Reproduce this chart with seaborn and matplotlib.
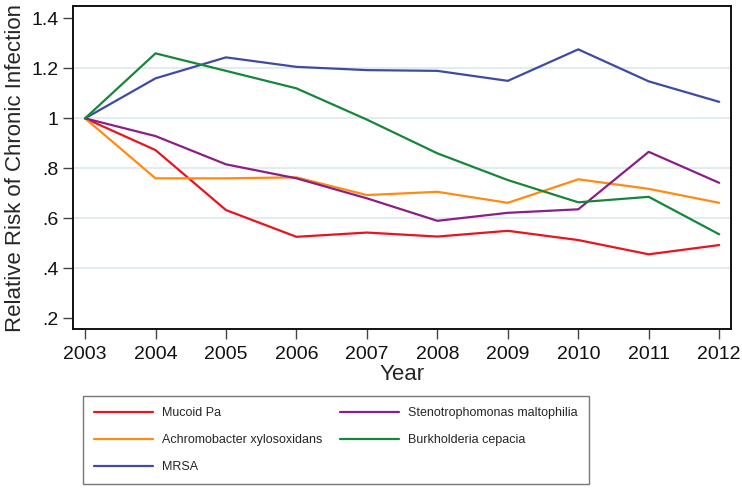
import numpy as np
import pandas as pd
import matplotlib
matplotlib.use("Agg")
import matplotlib.pyplot as plt
import seaborn as sns

years = [2003, 2004, 2005, 2006, 2007, 2008, 2009, 2010, 2011, 2012]
mucoid_pa = [1.0, 0.873, 0.633, 0.526, 0.543, 0.527, 0.55, 0.513, 0.456, 0.493]
achromobacter = [1.0, 0.76, 0.76, 0.764, 0.693, 0.706, 0.662, 0.756, 0.718, 0.662]
mrsa = [1.0, 1.16, 1.244, 1.206, 1.193, 1.19, 1.15, 1.276, 1.148, 1.066]
stenotrophomonas = [1.0, 0.929, 0.816, 0.76, 0.68, 0.59, 0.622, 0.636, 0.866, 0.742]
burkholderia = [1.0, 1.26, 1.19, 1.12, 0.995, 0.86, 0.753, 0.664, 0.686, 0.536]

series = {
    "Mucoid Pa": mucoid_pa,
    "Achromobacter xylosoxidans": achromobacter,
    "MRSA": mrsa,
    "Stenotrophomonas maltophilia": stenotrophomonas,
    "Burkholderia cepacia": burkholderia,
}
colors = {
    "Mucoid Pa": "#e8141f",
    "Achromobacter xylosoxidans": "#ff8a14",
    "MRSA": "#3e4ba3",
    "Stenotrophomonas maltophilia": "#8a1f86",
    "Burkholderia cepacia": "#16863a",
}

df = pd.concat(
    [pd.DataFrame({"year": years, "rr": vals, "organism": name})
     for name, vals in series.items()],
    ignore_index=True,
)

sns.set_style("white")
plt.rcParams["font.family"] = ["Liberation Sans", "DejaVu Sans"]

fig = plt.figure(figsize=(7.42, 4.9), dpi=100)
ax = fig.add_axes([0.098, 0.328, 0.887, 0.66])

sns.lineplot(data=df, x="year", y="rr", hue="organism", palette=colors,
             hue_order=list(series.keys()), linewidth=1.6, ax=ax, legend=False)

ax.set_xlim(2003 - 0.175, 2012 + 0.166)
ax.set_ylim(0.156, 1.45)
yt = [0.2, 0.4, 0.6, 0.8, 1.0, 1.2, 1.4]
ax.set_yticks(yt)
ax.set_yticklabels([".2", ".4", ".6", ".8", "1", "1.2", "1.4"])
ax.set_xticks(years)
ax.set_xticklabels([str(y) for y in years])
for v in [0.4, 0.6, 0.8, 1.0, 1.2]:
    ax.axhline(v, color="#dde7ee", linewidth=1.2, zorder=0)

ax.tick_params(axis="both", direction="out", length=7, width=1,
               bottom=True, left=True, color="#444444",
               labelsize=14, labelcolor="#111111")
ax.tick_params(axis="x", pad=5)
ax.tick_params(axis="y", pad=3)
for s in ax.spines.values():
    s.set_color("#111111")
    s.set_linewidth(1.4)

ax.set_xlabel("Year", fontsize=16, labelpad=1)
ax.set_ylabel("Relative Risk of Chronic Infection", fontsize=16, labelpad=4)

handles = [plt.Line2D([], [], color=colors[n], linewidth=1.6) for n in series]
leg = fig.legend(handles, list(series.keys()), ncol=2, loc="upper left",
                 bbox_to_anchor=(0.112, 0.192), borderaxespad=0,
                 frameon=True, fancybox=False, edgecolor="#555555",
                 fontsize=9, handlelength=4.7, handletextpad=0.75,
                 columnspacing=1.4, labelspacing=1.2, borderpad=0.9)
leg.get_frame().set_linewidth(1.0)

fig.savefig("out.png", dpi=100)
